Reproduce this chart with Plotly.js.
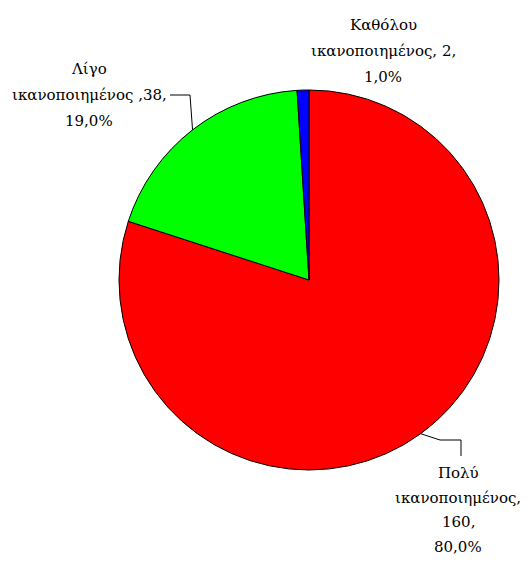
<!DOCTYPE html>
<html>
<head>
<meta charset="utf-8">
<script src="https://cdn.plot.ly/plotly-3.0.1.min.js"></script>
<style>html,body{margin:0;padding:0;background:#fff;}#chart{width:530px;height:564px;}</style>
</head>
<body>
<div id="chart"></div>
<script>
// Data
const labels = ["Πολύ ικανοποιημένος", "Λίγο ικανοποιημένος", "Καθόλου ικανοποιημένος"];
const values = [160, 38, 2];
const colors = ["#FF0000", "#00FF00", "#0000FF"];

// Layout geometry (pixels)
const W = 530, H = 564;
const CX = 309, CY = 280, R = 190;
const px = x => x / W;
const py = y => 1 - y / H;

const total = values.reduce((a, b) => a + b, 0);
const pctText = v => (v / total * 100).toFixed(1).replace('.', ',') + '%';

// label block layout: center x, first baseline-ish y, spacing, separator style, leader elbow points
const blocks = [
  { cx: 458, y0: 473, dy: 24.5, style: 'split',  leader: [[440, 440], [461, 440], [461, 456]] },
  { cx: 89,  y0: 69,  dy: 26,   style: 'tight',  leader: [[170, 95], [190, 95]] },
  { cx: 383, y0: 25,  dy: 26,   style: 'normal', leader: null }
];

function linesFor(i) {
  const parts = labels[i].split(' ');
  const v = values[i];
  const p = pctText(v);
  const st = blocks[i].style;
  if (st === 'split') return [parts[0], parts[1] + ',', v + ',', p];
  if (st === 'tight') return [parts[0], parts[1] + ' ,' + v + ',', p];
  return [parts[0], parts[1] + ', ' + v + ',', p];
}

const annotations = [];
const shapes = [];
let cum = 0;
values.forEach((v, i) => {
  const mid = (cum + v / 2) / total;
  cum += v;
  const ang = mid * 2 * Math.PI; // clockwise from 12 o'clock
  const ex = CX + R * Math.sin(ang);
  const ey = CY - R * Math.cos(ang);
  const b = blocks[i];
  linesFor(i).forEach((t, k) => {
    annotations.push({
      x: px(b.cx), y: py(b.y0 + k * b.dy), xref: 'paper', yref: 'paper',
      text: t, showarrow: false, xanchor: 'center', yanchor: 'middle',
      font: { family: 'DejaVu Serif', size: 15, color: '#000' }
    });
  });
  if (b.leader) {
    let pts = b.leader.slice();
    if (i === 0) pts = [[ex, ey]].concat(pts);
    else pts = pts.concat([[ex, ey]]);
    const d = pts.map((p, k) => (k ? 'L ' : 'M ') + px(p[0]) + ' ' + py(p[1])).join(' ');
    shapes.push({ type: 'path', xref: 'paper', yref: 'paper', path: d, line: { color: '#000', width: 1 } });
  }
});

const trace = {
  type: 'pie',
  labels: labels,
  values: values,
  sort: false,
  direction: 'clockwise',
  rotation: 0,
  marker: { colors: colors, line: { color: '#000', width: 1 } },
  textinfo: 'none',
  textposition: 'none',
  hoverinfo: 'none',
  domain: { x: [px(CX - R), px(CX + R)], y: [py(CY + R), py(CY - R)] }
};

const layout = {
  width: W, height: H,
  margin: { l: 0, r: 0, t: 0, b: 0 },
  showlegend: false,
  paper_bgcolor: '#fff',
  annotations: annotations,
  shapes: shapes
};

Plotly.newPlot('chart', [trace], layout, { displayModeBar: false, staticPlot: true });
</script>
</body>
</html>
